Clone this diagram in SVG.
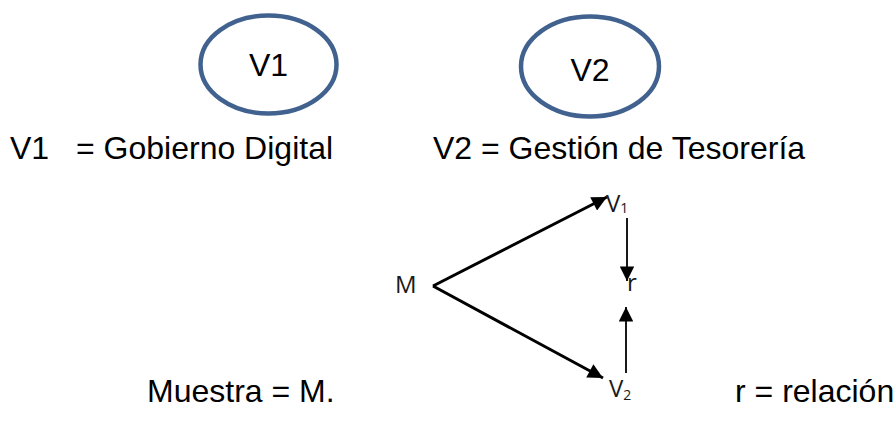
<svg xmlns="http://www.w3.org/2000/svg" width="896" height="421" viewBox="0 0 896 421">
<defs>
<style>
.lbl{font-family:"Liberation Sans",Arial,sans-serif;font-size:32px;fill:#000}
.ell{fill:#fff;stroke:#41628F;stroke-width:4.5}
.dg{font-family:"Open Sans","Liberation Sans",sans-serif;font-size:24px;fill:#1a1a1a}
.ln{stroke:#000;fill:none}
</style>
<marker id="ah" viewBox="0 0 10 10" refX="10" refY="5" markerWidth="6.5" markerHeight="5" markerUnits="strokeWidth" orient="auto">
<path d="M0,0 L10,5 L0,10 z" fill="#000"/>
</marker>
<marker id="ah2" viewBox="0 0 10 10" refX="10" refY="5" markerWidth="10" markerHeight="8" markerUnits="strokeWidth" orient="auto">
<path d="M0,0 L10,5 L0,10 z" fill="#000"/>
</marker>
</defs>
<rect width="896" height="421" fill="#fff"/>
<g id="node-v1">
<ellipse class="ell" cx="268.5" cy="64.5" rx="68" ry="49"/>
<text class="lbl" x="268.5" y="76" text-anchor="middle" font-size="29">V1</text>
</g>
<g id="node-v2">
<ellipse class="ell" cx="590" cy="66.5" rx="69" ry="50"/>
<text class="lbl" x="590" y="81" text-anchor="middle" font-size="29">V2</text>
</g>
<g id="legend">
<text class="lbl" x="10" y="159">V1</text>
<text class="lbl" x="76" y="159">= Gobierno Digital</text>
<text class="lbl" x="433" y="159">V2 = Gestión de Tesorería</text>
<text class="lbl" x="147" y="402" font-size="31">Muestra = M.</text>
<text class="lbl" x="735" y="402" font-size="31">r = relación</text>
</g>
<g id="node-m"><text class="dg" x="395" y="293">M</text></g>
<g id="node-dv1"><text class="dg" x="606" y="212">V<tspan font-size="14" dy="1">1</tspan></text></g>
<g id="node-r"><text class="dg" x="627" y="291">r</text></g>
<g id="node-dv2"><text class="dg" x="609" y="397">V<tspan font-size="14" dy="3">2</tspan></text></g>
<g id="connectors">
<line class="ln" x1="433" y1="286" x2="607" y2="197" stroke-width="3" marker-end="url(#ah)"/>
<line class="ln" x1="433" y1="286" x2="603" y2="378" stroke-width="3" marker-end="url(#ah)"/>
<line class="ln" x1="627" y1="218" x2="627" y2="281" stroke-width="1.8" marker-end="url(#ah2)"/>
<line class="ln" x1="626" y1="373" x2="626" y2="307" stroke-width="1.8" marker-end="url(#ah2)"/>
</g>
</svg>
